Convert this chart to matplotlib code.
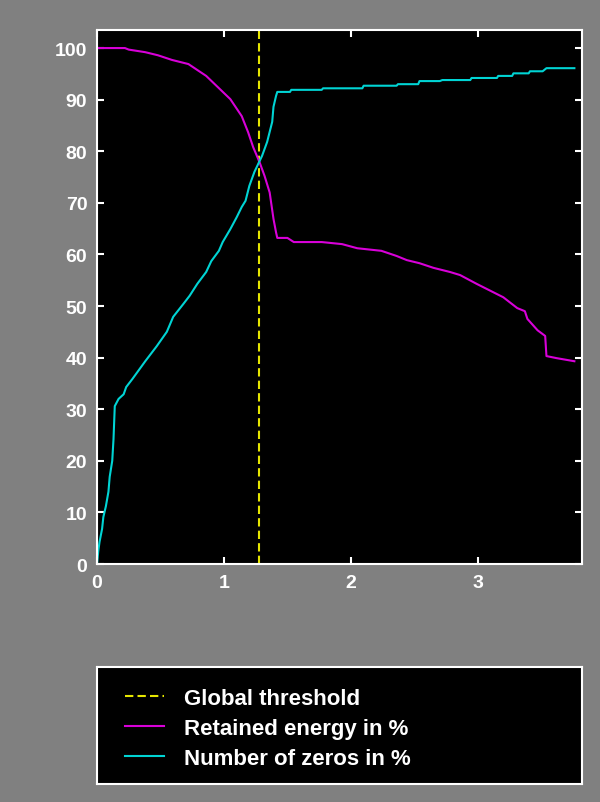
import matplotlib
matplotlib.use("Agg")
from matplotlib import pyplot as plt

# retained energy curve (x = threshold, y = percent)
energy_x = [0.0, 0.22, 0.25, 0.38, 0.48, 0.59, 0.72, 0.86, 1.05, 1.14, 1.19, 1.23,
            1.28, 1.32, 1.36, 1.39, 1.41, 1.42, 1.50, 1.55, 1.77, 1.93, 2.05, 2.24,
            2.36, 2.44, 2.54, 2.65, 2.78, 2.86, 2.99, 3.20, 3.31, 3.37, 3.39, 3.47,
            3.53, 3.54, 3.62, 3.76]
energy_y = [100.0, 100.0, 99.7, 99.2, 98.6, 97.7, 96.9, 94.6, 90.1, 86.8, 83.7, 80.8,
            77.9, 75.2, 72.0, 66.9, 64.3, 63.2, 63.2, 62.4, 62.4, 62.0, 61.2, 60.7,
            59.7, 58.9, 58.3, 57.4, 56.6, 56.0, 54.3, 51.7, 49.6, 49.0, 47.5, 45.3,
            44.2, 40.3, 39.9, 39.3]

# number of zeros curve
zeros_x = [0.0, 0.01, 0.02, 0.04, 0.05, 0.07, 0.09, 0.10, 0.12, 0.13, 0.14, 0.17,
           0.21, 0.23, 0.28, 0.38, 0.47, 0.55, 0.60, 0.68, 0.73, 0.79, 0.86, 0.90,
           0.96, 0.99, 1.05, 1.10, 1.14, 1.17, 1.20, 1.24, 1.30, 1.34, 1.38, 1.39,
           1.41, 1.42, 1.52, 1.53, 1.77, 1.78, 2.09, 2.10, 2.36, 2.37, 2.53, 2.54,
           2.70, 2.72, 2.94, 2.95, 3.15, 3.16, 3.27, 3.28, 3.40, 3.41, 3.51, 3.54, 3.76]
zeros_y = [0.0, 2.5, 4.3, 6.8, 9.1, 11.2, 14.0, 16.9, 20.0, 24.2, 30.6, 32.0,
           32.9, 34.3, 35.9, 39.3, 42.2, 45.0, 47.9, 50.4, 52.0, 54.3, 56.6, 58.7,
           60.7, 62.4, 64.9, 67.2, 69.2, 70.4, 73.3, 76.0, 79.1, 81.8, 85.7, 88.6,
           90.7, 91.5, 91.5, 91.9, 91.9, 92.2, 92.2, 92.7, 92.7, 93.0, 93.0, 93.6,
           93.6, 93.8, 93.8, 94.2, 94.2, 94.6, 94.6, 95.1, 95.1, 95.5, 95.5, 96.1, 96.1]

threshold = 1.275

legend_labels = ["Global threshold", "Retained energy in %", "Number of zeros in %"]
xticks = [0, 1, 2, 3]
yticks = list(range(0, 101, 10))

plt.rcParams["font.family"] = ["Liberation Sans", "DejaVu Sans"]
plt.rcParams["font.weight"] = "bold"

bg = "#808080"
fig = plt.figure(figsize=(6, 8.03), dpi=100, facecolor=bg)

ax = fig.add_axes([97 / 600, 1 - 565 / 803, 485 / 600, 534 / 803])
ax.set_facecolor("black")

h_thr = ax.axvline(threshold, color="#e6e600", lw=1.5, linestyle=(0, (4, 2)))
h_en, = ax.plot(energy_x, energy_y, color="#d800d8", lw=1.5)
h_ze, = ax.plot(zeros_x, zeros_y, color="#00d4d4", lw=1.5)

ax.set_xlim(0, 3.82)
ax.set_ylim(0, 103.5)
ax.set_xticks(xticks)
ax.set_yticks(yticks)
ax.tick_params(direction="in", length=5, width=1.5, colors="white",
               labelsize=14, top=True, right=True, pad=7)
for s in ax.spines.values():
    s.set_color("white")
    s.set_linewidth(1.5)

# legend box under the plot
lax = fig.add_axes([97 / 600, 1 - 785 / 803, 485 / 600, 117 / 803])
lax.set_facecolor("black")
lax.set_xticks([])
lax.set_yticks([])
for s in lax.spines.values():
    s.set_color("white")
    s.set_linewidth(1.5)
leg = lax.legend([h_thr, h_en, h_ze], legend_labels, loc="center left",
                 frameon=False, fontsize=16, handlelength=1.75,
                 handletextpad=0.9, labelspacing=0.42,
                 borderaxespad=0.0, bbox_to_anchor=(0.04, 0.475))
for t in leg.get_texts():
    t.set_color("white")

fig.savefig("out.png", dpi=100, facecolor=bg)
